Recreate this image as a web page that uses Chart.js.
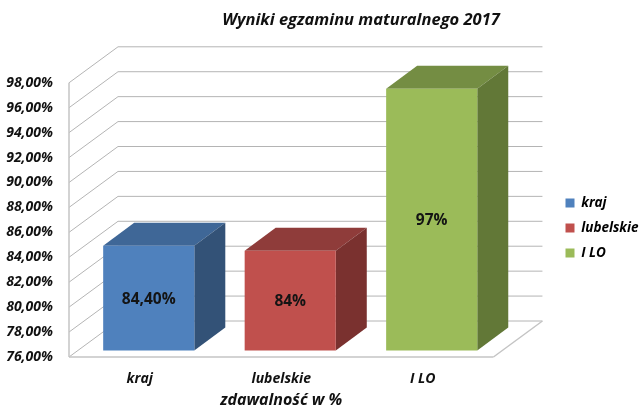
<!DOCTYPE html>
<html>
<head>
<meta charset="utf-8">
<title>Wyniki egzaminu maturalnego 2017</title>
<script src="https://cdn.jsdelivr.net/npm/chart.js@4"></script>
<style>
	html, body { margin: 0; padding: 0; background: #fff; }
	canvas { display: block; }
</style>
</head>
<body>
<canvas id="myChart" width="640" height="416"></canvas>
<script>
// Dane wykresu
const tytul = "Wyniki egzaminu maturalnego 2017";
const tytulOsi = "zdawalność w %";
const kategorie = ["kraj", "lubelskie", "I LO"];
const wartosci = [84.4, 84, 97];
const etykiety = ["84,40%", "84%", "97%"];

// Kolory: przod, gora, bok
const kolorPrzod = ["#4f81bd", "#c0504d", "#9bbb59"];
const kolorGora = ["#3f6797", "#8f3c3a", "#748d43"];
const kolorBok = ["#335277", "#7a312f", "#627837"];
const kolorSiatki = "#b4b4b4";

const czcionka = "'Open Sans', sans-serif";

// Przesuniecia perspektywy (w pikselach)
const glebSciany = { x: 49, y: -36 };
const glebSlupka = { x: 31, y: -23 };
const odsuniecie = { x: 9, y: -6.5 };

function linia(ctx, x1, y1, x2, y2) {
	ctx.beginPath();
	ctx.moveTo(x1, y1);
	ctx.lineTo(x2, y2);
	ctx.stroke();
}

function wielokat(ctx, punkty, kolor) {
	ctx.fillStyle = kolor;
	ctx.beginPath();
	punkty.forEach((p, i) => {
		if (i === 0) ctx.moveTo(p[0], p[1]);
		else ctx.lineTo(p[0], p[1]);
	});
	ctx.closePath();
	ctx.fill();
}

// Sciany i podloga 3D, z siatka z osi Y
const sciany = {
	id: "sciany",
	beforeDatasetsDraw(chart) {
		const ctx = chart.ctx;
		const y = chart.scales.y;
		const lewo = chart.chartArea.left;
		const prawo = chart.chartArea.right;
		ctx.save();
		ctx.lineWidth = 1;
		ctx.strokeStyle = kolorSiatki;
		y.ticks.forEach((t) => {
			const py = y.getPixelForValue(t.value);
			linia(ctx, lewo, py, lewo + glebSciany.x, py + glebSciany.y);
			linia(ctx, lewo + glebSciany.x, py + glebSciany.y, prawo + glebSciany.x, py + glebSciany.y);
		});
		const dol = y.getPixelForValue(y.min);
		ctx.strokeStyle = "#c4c4c4";
		ctx.lineWidth = 1.5;
		linia(ctx, lewo, y.getPixelForValue(y.max), lewo, dol);
		linia(ctx, lewo, dol, prawo, dol);
		linia(ctx, prawo, dol, prawo + glebSciany.x, dol + glebSciany.y);
		ctx.restore();
	}
};

// Slupki: bok i gora liczone z elementow Chart.js, przod rysuje biblioteka
const slupki3d = {
	id: "slupki3d",
	beforeDatasetDraw(chart) {
		const ctx = chart.ctx;
		ctx.save();
		ctx.translate(odsuniecie.x, odsuniecie.y);
		chart.getDatasetMeta(0).data.forEach((bar, i) => {
			const l = bar.x - bar.width / 2;
			const r = bar.x + bar.width / 2;
			const dx = glebSlupka.x;
			const dy = glebSlupka.y;
			wielokat(ctx, [[l, bar.y], [r, bar.y], [r + dx, bar.y + dy], [l + dx, bar.y + dy]], kolorGora[i]);
			wielokat(ctx, [[r, bar.y], [r + dx, bar.y + dy], [r + dx, bar.base + dy], [r, bar.base]], kolorBok[i]);
		});
	},
	afterDatasetDraw(chart) {
		const ctx = chart.ctx;
		ctx.fillStyle = "#141414";
		ctx.font = "bold 15.5px " + czcionka;
		ctx.textAlign = "center";
		ctx.textBaseline = "middle";
		chart.getDatasetMeta(0).data.forEach((bar, i) => {
			ctx.fillText(etykiety[i], bar.x, (bar.y + bar.base) / 2 + 1);
		});
		ctx.restore();
	}
};

// Tytul i legenda stoja poza srodkiem, wiec przesuwamy je po ulozeniu
const ulozenie = {
	id: "ulozenie",
	afterLayout(chart) {
		chart.titleBlock.left += 67;
		chart.titleBlock.right += 67;
		chart.legend.left = 554;
		chart.legend.right = 640;
		chart.legend.top = 154;
		chart.legend.bottom = 302;
	}
};

const config = {
	type: "bar",
	data: {
		labels: kategorie,
		datasets: [{
			data: wartosci,
			base: 76,
			backgroundColor: kolorPrzod,
			borderWidth: 0,
			barPercentage: 0.644,
			categoryPercentage: 1,
			clip: false
		}]
	},
	options: {
		responsive: false,
		animation: false,
		layout: { padding: { top: 10, right: 52, bottom: 0, left: 0 } },
		plugins: {
			title: {
				display: true,
				text: tytul,
				color: "#111",
				font: { family: czcionka, size: 16.5, weight: "bold", style: "italic" },
				padding: { top: 0, bottom: 53 }
			},
			legend: {
				display: true,
				position: "right",
				labels: {
					boxWidth: 9,
					boxHeight: 9,
					padding: 11.5,
					color: "#111",
					font: { family: czcionka, size: 13.5, weight: "bold", style: "italic" },
					generateLabels() {
						return kategorie.map((k, i) => ({ text: k, fillStyle: kolorPrzod[i], lineWidth: 0, strokeStyle: kolorPrzod[i], index: i }));
					}
				}
			},
			tooltip: { enabled: false }
		},
		scales: {
			x: {
				grid: { display: false },
				border: { display: false },
				afterFit(scale) { scale.height = 59; },
				ticks: {
					color: "#111",
					padding: 6,
					maxRotation: 0,
					font: { family: czcionka, size: 14, weight: "bold", style: "italic" }
				},
				title: {
					display: true,
					text: tytulOsi,
					color: "#111",
					font: { family: czcionka, size: 16, weight: "bold", style: "italic" },
					padding: { top: 6, bottom: 6 }
				}
			},
			y: {
				min: 76,
				max: 98,
				grid: { display: false },
				border: { display: false },
				afterFit(scale) { scale.width = 69; },
				ticks: {
					stepSize: 2,
					color: "#111",
					padding: 8,
					font: { family: czcionka, size: 14, weight: "bold", style: "italic" },
					callback(v) { return v.toFixed(2).replace(".", ",") + "%"; }
				}
			}
		}
	},
	plugins: [sciany, slupki3d, ulozenie]
};

const myChart = new Chart(document.getElementById("myChart"), config);
</script>
</body>
</html>
